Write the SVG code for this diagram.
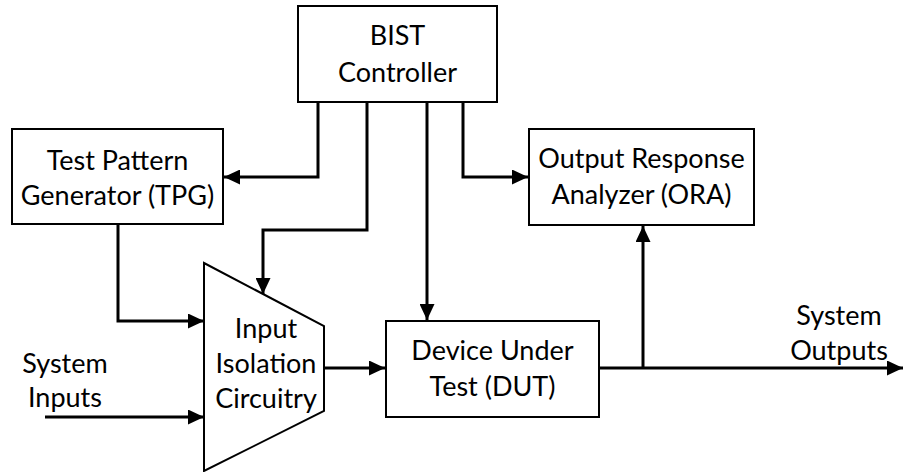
<svg xmlns="http://www.w3.org/2000/svg" width="903" height="472" viewBox="0 0 903 472">
<style>
.box{fill:#fff;stroke:#000;stroke-width:2}
.t{font-family:Lato,"Liberation Sans",sans-serif;font-size:27px;fill:#000;text-anchor:middle}
.c{fill:none;stroke:#000;stroke-width:3;marker-end:url(#ah)}
</style>
<defs>
<marker id="ah" markerUnits="userSpaceOnUse" markerWidth="16" markerHeight="15" refX="16" refY="7.5" orient="auto">
<path d="M0,0 L16,7.5 L0,15 z" fill="#000"/>
</marker>
</defs>
<rect width="903" height="472" fill="#fff"/>
<g id="connectors">
<path class="c" d="M318,102 V177 H224"/>
<path class="c" d="M367,102 V230 H263 V294"/>
<path class="c" d="M427,102 V320"/>
<path class="c" d="M463,102 V177 H528"/>
<path class="c" d="M118,224 V321 H204"/>
<path class="c" d="M45,417 H204"/>
<path class="c" d="M324,368 H385"/>
<path class="c" d="M599,368 H903"/>
<path class="c" d="M643,368 V226"/>
</g>
<g id="bist">
<rect class="box" x="298" y="6" width="199" height="96"/>
<text class="t" x="397.5" y="45">BIST</text>
<text class="t" x="397.5" y="82">Controller</text>
</g>
<g id="tpg">
<rect class="box" x="12" y="129" width="211" height="95"/>
<text class="t" x="117.5" y="170">Test Pattern</text>
<text class="t" x="117.5" y="205">Generator (TPG)</text>
</g>
<g id="ora">
<rect class="box" x="529" y="129" width="225" height="96"/>
<text class="t" x="641.5" y="168">Output Response</text>
<text class="t" x="641.5" y="204">Analyzer (ORA)</text>
</g>
<g id="isolation">
<polygon class="box" points="204,263 324,326 324,411 204,471"/>
<text class="t" x="266" y="338">Input</text>
<text class="t" x="266" y="373">Isolation</text>
<text class="t" x="266" y="408">Circuitry</text>
</g>
<g id="dut">
<rect class="box" x="386" y="321" width="213" height="96"/>
<text class="t" x="492.5" y="360">Device Under</text>
<text class="t" x="492.5" y="396">Test (DUT)</text>
</g>
<g id="sysin">
<text class="t" x="65" y="373">System</text>
<text class="t" x="65" y="407">Inputs</text>
</g>
<g id="sysout">
<text class="t" x="839" y="325">System</text>
<text class="t" x="839" y="360">Outputs</text>
</g>
</svg>
